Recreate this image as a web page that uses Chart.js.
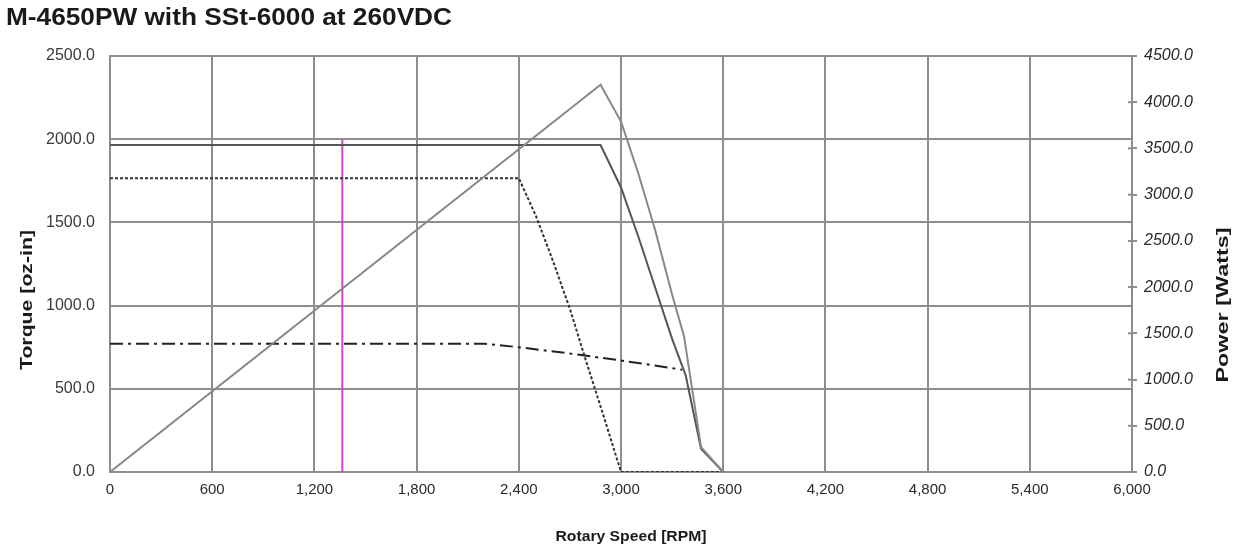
<!DOCTYPE html>
<html>
<head>
<meta charset="utf-8">
<script src="https://cdn.jsdelivr.net/npm/chart.js@4.4.1/dist/chart.umd.min.js"></script>
<style>
  html, body { margin: 0; padding: 0; background: #ffffff; }
  #wrap { width: 1242px; height: 550px; position: relative; }
</style>
</head>
<body>
<div id="wrap"><canvas id="c" width="1242" height="550"></canvas></div>
<script>
// ---- Data ----
const chartTitle = "M-4650PW with SSt-6000 at 260VDC";
const xTitle = "Rotary Speed [RPM]";
const yTitle = "Torque [oz-in]";
const y2Title = "Power [Watts]";

// Peak torque (solid)
const peakRpm    = [0, 2880, 3000, 3100, 3200, 3300, 3380, 3470, 3600];
const peakTorque = [1965, 1965, 1710, 1420, 1110, 800, 580, 140, 0];

// Power (solid, right axis)
const powerRpm   = [0, 2880, 3000, 3100, 3200, 3300, 3370, 3470, 3600];
const powerWatts = [0, 4190, 3790, 3240, 2620, 1920, 1470, 270, 0];

// Short-dashed torque curve
const dashRpm    = [0, 2400, 2500, 2600, 2700, 2800, 2900, 3000, 3600];
const dashTorque = [1766, 1766, 1540, 1270, 980, 650, 330, 0, 0];

// Dash-dot (continuous) torque curve
const contRpm    = [0, 2200, 2400, 2700, 3000, 3360];
const contTorque = [770, 770, 750, 712, 670, 615];

// Magenta marker line
const markRpm    = [1364, 1364];
const markTorque = [0, 2000];

// Axis ranges / ticks
const xMin = 0, xMax = 6000, xStep = 600;
const yMin = 0, yMax = 2500, yStep = 500;
const y2Min = 0, y2Max = 4500, y2Step = 500;

const pts = (xs, ys) => xs.map((x, i) => ({ x: x, y: ys[i] }));

const FONT = "'Liberation Sans', Arial, sans-serif";
const GRID = '#8e8e8e';

const textPlugin = {
  id: 'texts',
  afterDraw(chart) {
    const ctx = chart.ctx;
    const ca = chart.chartArea;
    // inner half of right-axis tick marks
    const s2 = chart.scales.y2;
    ctx.save();
    ctx.strokeStyle = GRID;
    ctx.lineWidth = 2;
    s2.ticks.forEach(t => {
      const py = s2.getPixelForValue(t.value);
      ctx.beginPath();
      ctx.moveTo(ca.right - 4, py);
      ctx.lineTo(ca.right, py);
      ctx.stroke();
    });
    ctx.restore();

    function draw(text, cx, cy, rot, font, targetW, align) {
      ctx.save();
      ctx.font = font;
      ctx.fillStyle = '#1a1a1a';
      const w = ctx.measureText(text).width;
      const sx = targetW / w;
      ctx.translate(cx, cy);
      ctx.rotate(rot);
      ctx.scale(sx, 1);
      ctx.textBaseline = 'middle';
      ctx.textAlign = align || 'center';
      ctx.fillText(text, 0, 0);
      ctx.restore();
    }
    draw(chartTitle, 6, 19, 0, "bold 23px " + FONT, 446, 'left');
    draw(xTitle, 631, 537, 0, "bold 15px " + FONT, 151);
    draw(yTitle, 27, 300, -Math.PI / 2, "bold 17px " + FONT, 140);
    draw(y2Title, 1223, 305, -Math.PI / 2, "bold 17px " + FONT, 155);
  }
};

new Chart(document.getElementById('c'), {
  type: 'line',
  data: {
    datasets: [
      {
        label: 'Power',
        data: pts(powerRpm, powerWatts),
        yAxisID: 'y2',
        borderColor: '#888888',
        borderWidth: 2
      },
      {
        label: 'Peak Torque',
        data: pts(peakRpm, peakTorque),
        yAxisID: 'y',
        borderColor: '#555555',
        borderWidth: 2
      },
      {
        label: 'Torque (dashed)',
        data: pts(dashRpm, dashTorque),
        yAxisID: 'y',
        borderColor: '#333333',
        borderWidth: 2,
        borderDash: [3, 2]
      },
      {
        label: 'Continuous Torque',
        data: pts(contRpm, contTorque),
        yAxisID: 'y',
        borderColor: '#222222',
        borderWidth: 2,
        borderDash: [13, 5, 3, 5]
      },
      {
        label: 'Marker',
        data: pts(markRpm, markTorque),
        yAxisID: 'y',
        borderColor: '#cc44cc',
        borderWidth: 2
      }
    ]
  },
  options: {
    responsive: false,
    animation: false,
    parsing: true,
    layout: { padding: { top: 56, left: 0, right: 0, bottom: 0 } },
    elements: {
      point: { radius: 0, hoverRadius: 0 },
      line: { tension: 0, fill: false }
    },
    plugins: {
      legend: { display: false },
      title: { display: false },
      tooltip: { enabled: false }
    },
    scales: {
      x: {
        type: 'linear',
        min: xMin, max: xMax,
        afterFit: (s) => { s.height = 78; },
        afterBuildTicks: (s) => {
          const t = [];
          for (let v = xMin; v <= xMax; v += xStep) t.push({ value: v });
          s.ticks = t;
        },
        ticks: {
          autoSkip: false,
          maxRotation: 0,
          padding: 9,
          color: '#2a2a2a',
          font: { family: FONT, size: 15 },
          callback: (v) => Number(v).toLocaleString('en-US')
        },
        grid: { color: GRID, lineWidth: 2, drawTicks: false },
        border: { color: GRID, width: 2 }
      },
      y: {
        type: 'linear',
        position: 'left',
        min: yMin, max: yMax,
        afterFit: (s) => { s.width = 110; },
        ticks: {
          stepSize: yStep,
          padding: 15,
          color: '#3a3a3a',
          font: { family: FONT, size: 16 },
          callback: (v) => Number(v).toFixed(1)
        },
        grid: { color: GRID, lineWidth: 2, drawTicks: false },
        border: { color: GRID, width: 2 }
      },
      y2: {
        type: 'linear',
        position: 'right',
        min: y2Min, max: y2Max,
        afterFit: (s) => { s.width = 110; },
        ticks: {
          stepSize: y2Step,
          padding: 7,
          color: '#2a2a2a',
          font: { family: FONT, size: 16, style: 'italic' },
          callback: (v) => Number(v).toFixed(1)
        },
        grid: { drawOnChartArea: false, drawTicks: true, tickLength: 5, color: GRID, lineWidth: 2 },
        border: { color: GRID, width: 2 }
      }
    }
  },
  plugins: [textPlugin]
});
</script>
</body>
</html>
